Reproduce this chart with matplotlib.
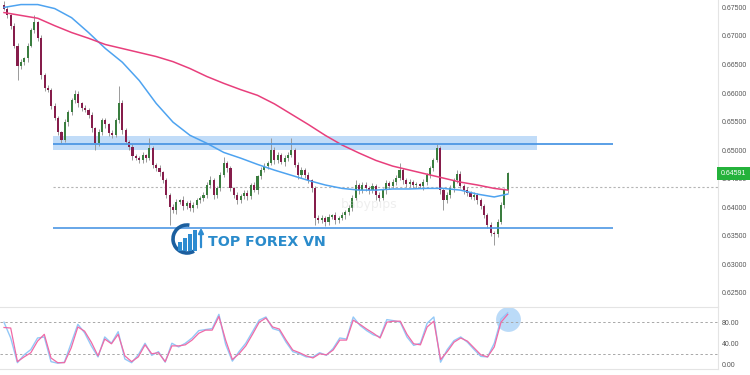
import numpy as np
import matplotlib.pyplot as plt
from matplotlib.patches import Rectangle, Arc

# giá đóng cửa (đơn vị pip, 0.0001)
closes = [6748, 6736, 6718, 6683, 6648, 6654, 6661, 6683, 6710, 6724,
          6696, 6631, 6608, 6605, 6578, 6556, 6531, 6517, 6549, 6566,
          6587, 6599, 6582, 6573, 6570, 6561, 6538, 6512, 6531, 6552,
          6545, 6530, 6526, 6552, 6582, 6535, 6514, 6505, 6489, 6486,
          6482, 6491, 6486, 6503, 6474, 6468, 6461, 6447, 6421, 6400,
          6395, 6409, 6412, 6402, 6407, 6398, 6404, 6412, 6416, 6421,
          6439, 6447, 6421, 6433, 6456, 6477, 6468, 6433, 6421, 6412,
          6419, 6425, 6419, 6439, 6430, 6454, 6465, 6472, 6477, 6500,
          6482, 6491, 6479, 6486, 6491, 6500, 6474, 6456, 6465, 6456,
          6447, 6433, 6381, 6377, 6381, 6374, 6383, 6386, 6377, 6381,
          6386, 6391, 6398, 6416, 6439, 6430, 6439, 6433, 6430, 6437,
          6421, 6416, 6430, 6442, 6437, 6444, 6451, 6465, 6447, 6440,
          6444, 6439, 6440, 6437, 6444, 6456, 6468, 6482, 6503, 6430,
          6412, 6421, 6433, 6447, 6458, 6437, 6430, 6425, 6418, 6421,
          6412, 6402, 6386, 6369, 6355, 6353, 6374, 6404, 6430, 6459.1]
first_open = 6755
upper_wick = [7, 4, 3, 5, 4, 6, 3, 5, 4, 12,
              3, 5, 4, 6, 3, 5, 4, 3, 6, 5,
              4, 7, 5, 3, 6, 4, 5, 3, 6, 4,
              5, 3, 6, 4, 31, 5, 4, 3, 6, 5,
              4, 6, 3, 19, 5, 4, 6, 3, 5, 4,
              6, 5, 3, 7, 4, 5, 6, 4, 3, 5,
              6, 8, 4, 5, 6, 11, 4, 5, 3, 6,
              4, 5, 6, 4, 5, 3, 6, 5, 4, 22,
              5, 6, 4, 5, 6, 22, 4, 5, 6, 4,
              5, 3, 4, 5, 6, 4, 5, 3, 6, 4,
              5, 4, 6, 5, 8, 4, 5, 6, 4, 5,
              4, 5, 3, 6, 4, 5, 6, 12, 4, 5,
              6, 4, 5, 3, 6, 4, 5, 4, 7, 5,
              4, 5, 6, 4, 7, 5, 4, 6, 3, 5,
              4, 5, 3, 4, 5, 4, 6, 5, 4, 2]
lower_wick = [3, 5, 6, 4, 26, 5, 4, 6, 3, 5,
              4, 6, 5, 3, 6, 4, 5, 4, 3, 6,
              5, 4, 6, 5, 3, 4, 6, 12, 5, 4,
              6, 5, 4, 3, 5, 6, 4, 5, 6, 4,
              5, 4, 6, 3, 5, 4, 6, 5, 4, 31,
              5, 6, 4, 7, 5, 4, 6, 5, 4, 5,
              4, 5, 6, 4, 5, 3, 6, 5, 4, 6,
              5, 4, 6, 5, 4, 6, 5, 4, 5, 3,
              6, 5, 4, 6, 5, 3, 4, 6, 5, 4,
              5, 6, 12, 5, 4, 6, 5, 4, 6, 5,
              4, 6, 5, 4, 3, 6, 5, 4, 6, 5,
              8, 5, 4, 6, 5, 4, 5, 3, 6, 5,
              4, 6, 5, 4, 6, 5, 4, 5, 3, 6,
              17, 5, 4, 6, 5, 4, 6, 5, 4, 5,
              6, 5, 4, 5, 6, 19, 5, 4, 6, 5]

# đường MA, đọc mỗi 5 nến
ma_fast = [6750, 6755, 6755, 6748, 6732, 6706, 6678, 6654, 6622, 6582,
           6549, 6526, 6512, 6496, 6486, 6475, 6465, 6456, 6447, 6439,
           6433, 6430, 6430, 6432, 6432, 6433, 6433, 6430, 6423, 6418, 6423]
ma_slow = [6741, 6736, 6731, 6718, 6706, 6696, 6685, 6678, 6671, 6664,
           6655, 6643, 6629, 6617, 6606, 6596, 6581, 6563, 6545, 6526,
           6509, 6495, 6482, 6472, 6465, 6458, 6451, 6444, 6439, 6433, 6430]

# stochastic
stoch_k = [80, 50, 3, 18, 28, 50, 52, 5, 2, 4, 40, 76, 60, 35, 14, 52, 40, 62, 10, 3,
           18, 40, 17, 24, 4, 40, 33, 40, 50, 64, 66, 68, 95, 38, 6, 24, 40, 62, 84, 90,
           68, 64, 42, 24, 20, 14, 14, 22, 17, 30, 50, 48, 90, 74, 64, 56, 52, 85, 83, 80,
           52, 36, 40, 78, 90, 4, 28, 45, 52, 42, 28, 15, 14, 40, 86, 98]
stoch_d = [70, 69, 5, 14, 22, 44, 57, 12, 3, 3, 31, 71, 63, 42, 16, 48, 39, 57, 16, 5,
           14, 37, 20, 22, 5, 35, 35, 37, 46, 59, 65, 65, 91, 46, 9, 20, 35, 57, 80, 88,
           71, 67, 46, 27, 22, 16, 12, 20, 18, 27, 46, 46, 84, 76, 67, 59, 50, 80, 82, 82,
           57, 39, 37, 71, 82, 9, 24, 42, 50, 44, 31, 18, 14, 33, 80, 95]

price_ticks = [0.625, 0.630, 0.635, 0.640, 0.645, 0.650, 0.655, 0.660, 0.665, 0.670, 0.675]
osc_ticks = [0, 40, 80]
last_price = 0.64591

# vùng kháng cự / hỗ trợ vẽ tay
zone_low, zone_high = 0.65006, 0.65243
zone_line = 0.65103
support = 0.63628
dotted_level = 0.64356
draw_start, zone_end, line_end = 14.5, 157.7, 180.2

W, H = 750, 375
plt.rcParams['font.family'] = ['Liberation Sans', 'DejaVu Sans']
fig = plt.figure(figsize=(W / 100, H / 100), dpi=100)
ax = fig.add_axes([0, 1 - 306 / H, 718 / W, 306 / H])
ax2 = fig.add_axes([0, 1 - 369 / H, 718 / W, 62 / H])

c = np.array(closes) / 10000
o = np.concatenate([[first_open / 10000], c[:-1]])
hi = np.maximum(o, c) + np.array(upper_wick) / 10000
lo = np.minimum(o, c) - np.array(lower_wick) / 10000
idx = np.arange(len(c))
up = c >= o

ax.vlines(idx, lo, hi, color='#9a9a9a', lw=0.7, zorder=2)
ax.bar(idx[up], (c - o)[up], bottom=o[up], width=0.62, color='#3a7d3f', lw=0, zorder=3)
ax.bar(idx[~up], (c - o)[~up], bottom=o[~up], width=0.62, color='#861d4b', lw=0, zorder=3)

ma_idx = list(range(0, len(c), 5)) + [len(c) - 1]
ax.plot(ma_idx, np.array(ma_fast) / 10000, color='#4ea3f0', lw=1.1, zorder=4)
ax.plot(ma_idx, np.array(ma_slow) / 10000, color='#e83f7c', lw=1.1, zorder=4)

ax.add_patch(Rectangle((draw_start, zone_low), zone_end - draw_start, zone_high - zone_low,
                       facecolor='#b7d6f7', edgecolor='none', alpha=0.85, zorder=1))
ax.hlines(zone_line, draw_start, line_end, color='#4d97e4', lw=1.3, zorder=5)
ax.hlines(support, draw_start, line_end, color='#4d97e4', lw=1.2, zorder=5)
ax.hlines(dotted_level, draw_start, 212, color='#b5b5b5', lw=0.8, linestyles=(0, (2, 2)), zorder=1)

ax.text(108, 0.6404, 'babypips', fontsize=9, color='#d0d0d0', alpha=0.35,
        ha='center', va='center', family='DejaVu Sans')

xl = (-1.18, 211.2)
ax.set_xlim(xl)
ax.set_ylim(0.6227, 0.6763)
ax.yaxis.tick_right()
ax.set_yticks(price_ticks)
ax.set_yticklabels(['%.5f' % t for t in price_ticks])
ax.tick_params(axis='y', length=0, pad=2.5, labelsize=5, labelcolor='#555555')
ax.set_xticks([])
for s in ['left', 'top', 'bottom']:
    ax.spines[s].set_visible(False)
ax.spines['right'].set_color('#e4e4e4')

ax.annotate('%.5f' % last_price, xy=(1.0, last_price), xycoords=('axes fraction', 'data'),
            xytext=(2, 0), textcoords='offset points', ha='left', va='center',
            fontsize=5, color='white', annotation_clip=False, zorder=10,
            bbox=dict(boxstyle='square,pad=0.5', fc='#24b23b', ec='none'))

# stochastic panel
sx = np.linspace(0, len(c) - 1, len(stoch_k))
ax2.scatter([sx[-1]], [stoch_d[-1] - 8], s=320, color='#8fc3f4', alpha=0.6, lw=0, zorder=1)
ax2.plot(sx, stoch_k, color='#93c8f7', lw=1.0, zorder=3)
ax2.plot(sx, stoch_d, color='#f06aa6', lw=0.9, zorder=4)
ax2.axhline(80, color='#a8a8a8', lw=0.7, ls=(0, (2.5, 2.5)), zorder=2)
ax2.axhline(20, color='#a8a8a8', lw=0.7, ls=(0, (2.5, 2.5)), zorder=2)
ax2.set_xlim(xl)
ax2.set_ylim(-9, 109)
ax2.yaxis.tick_right()
ax2.set_yticks(osc_ticks)
ax2.set_yticklabels(['%.2f' % t for t in osc_ticks])
ax2.tick_params(axis='y', length=0, pad=2.5, labelsize=5, labelcolor='#555555')
ax2.set_xticks([])
ax2.spines['left'].set_visible(False)
for s in ['top', 'bottom', 'right']:
    ax2.spines[s].set_color('#e4e4e4')
    ax2.spines[s].set_linewidth(0.8)

# logo TOP FOREX VN
logo = fig.add_axes([166 / W, 1 - 260 / H, 44 / W, 40 / H])
logo.set_xlim(0, 44)
logo.set_ylim(0, 40)
logo.axis('off')
logo.add_patch(Arc((21, 21), 28, 28, theta1=80, theta2=300, lw=2.6, color='#1c5f9f'))
for k, top in enumerate([18, 22, 26, 30]):
    logo.add_patch(Rectangle((12 + 5 * k, 9), 4, top - 9, color='#2d8bd0', lw=0))
logo.annotate('', xy=(35, 35), xytext=(35, 10),
              arrowprops=dict(arrowstyle='-|>', color='#2d8bd0', lw=1.6, mutation_scale=7))
fig.text(208 / W, 1 - 242.5 / H, 'TOP FOREX VN', fontsize=10.2, fontweight='bold',
         color='#2a8bcb', ha='left', va='center', family='DejaVu Sans')

fig.savefig('out.png', dpi=100)
